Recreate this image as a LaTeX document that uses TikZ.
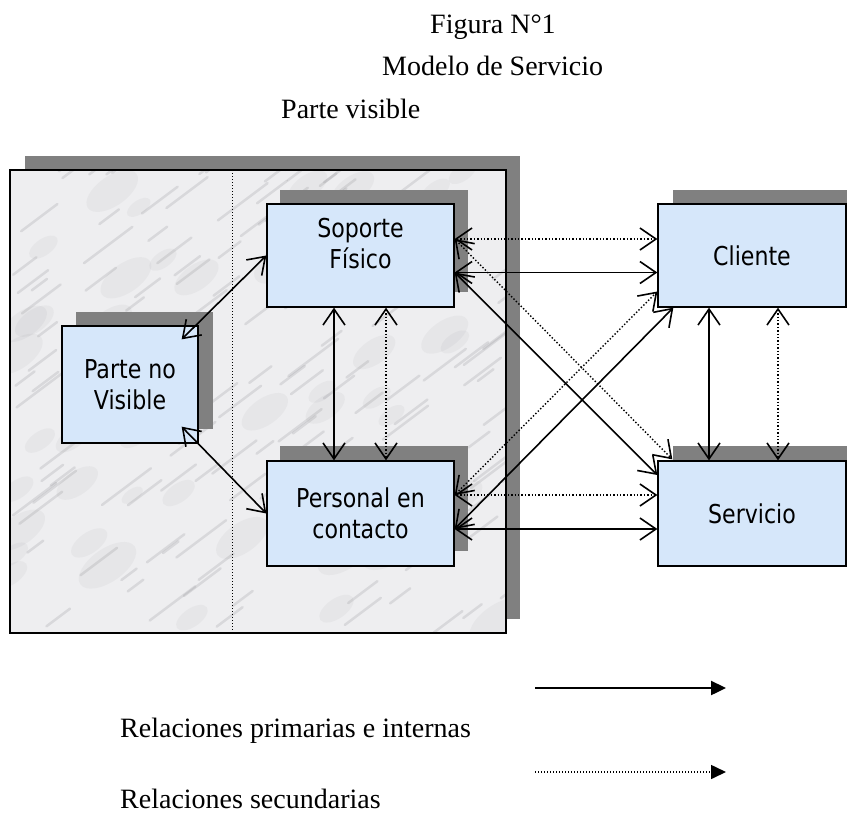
\documentclass[tikz,border=0pt]{standalone}
\usepackage{fontspec}
\setmainfont{Liberation Serif}
\newfontfamily\boxfont[FakeStretch=0.85]{DejaVu Sans}
\usetikzlibrary{arrows.meta,calc}
\definecolor{shadowgray}{RGB}{128,128,128}
\definecolor{boxblue}{RGB}{214,231,250}
\definecolor{marblebase}{RGB}{238,238,240}
\definecolor{vein}{RGB}{140,140,145}
\tikzset{
  vbarb/.tip={Straight Barb[length=16pt,width=22pt,line width=1.6pt]},
  prim/.style={line width=1.6pt,{vbarb}-{vbarb}},
  sec/.style={line width=1.4pt,dash pattern=on 1.4pt off 2pt,{vbarb}-{vbarb}},
  vbox/.style={draw=black,line width=1.3pt,fill=boxblue,inner sep=0pt,align=center,
    font=\boxfont\fontsize{26}{31}\selectfont},
  shade box/.style={fill=shadowgray},
  title/.style={anchor=base west,inner sep=0pt,font=\fontsize{28}{34}\selectfont},
}
\begin{document}
\begin{tikzpicture}[x=1pt,y=-1pt]
\useasboundingbox (0,0) rectangle (847,815);
% titles
\node[title] (t1) at (430,33) {Figura N°1};
\node[title] (t2) at (382,75) {Modelo de Servicio};
\node[title] (t3) at (281,118) {Parte visible};
% big marble panel
\fill[shade box] (25,156) rectangle (520,619);
\begin{scope}
  \clip (10,170) rectangle (506,633);
  \fill[marblebase] (10,170) rectangle (506,633);
  \pgfmathsetseed{11}
  \foreach \i in {1,...,60}{
    \pgfmathsetmacro\xx{10+496*rnd}
    \pgfmathsetmacro\yy{170+463*rnd}
    \pgfmathsetmacro\rr{12+22*rnd}
    \fill[vein,opacity=0.08] (\xx,\yy) ellipse[x radius=\rr, y radius=0.5*\rr, rotate=35];
  }
  \foreach \i in {1,...,140}{
    \pgfmathsetmacro\xx{10+496*rnd}
    \pgfmathsetmacro\yy{170+463*rnd}
    \pgfmathsetmacro\ll{15+35*rnd}
    \draw[vein,opacity=0.22,line width=2.5pt,line cap=round] (\xx,\yy) -- ++(\ll,-0.75*\ll);
  }
\end{scope}
\draw[line width=1.3pt] (10,170) rectangle (506,633);
\draw[line width=0.9pt,dash pattern=on 1pt off 2pt] (232,170) -- (232,633);
% box shadows
\fill[shade box] (280,190) rectangle (468,292);
\fill[shade box] (76,312) rectangle (213,429);
\fill[shade box] (280,446) rectangle (468,551);
\fill[shade box] (673,190) rectangle (860,292);
\fill[shade box] (673,446) rectangle (860,551);
% boxes
\node[vbox,minimum width=187,minimum height=103] (sop) at (360.5,255.5) {Soporte\\Físico\vphantom{p}\\[-6pt]};
\node[vbox,minimum width=136,minimum height=117] (par) at (130,384.5) {Parte no\\Visible};
\node[vbox,minimum width=187,minimum height=105] (per) at (360.5,513.5) {Personal en\\contacto};
\node[vbox,minimum width=188,minimum height=103] (cli) at (752,255.5) {Cliente};
\node[vbox,minimum width=188,minimum height=105] (ser) at (752,513.5) {Servicio};
% internal relations
\draw[prim] ($(par.north east)+(-17,14)$) -- (sop.west);
\draw[prim] ($(par.south east)+(-17,-17)$) -- (per.west);
\draw[prim] ($(sop.south)+(-26.5,0)$) -- ($(per.north)+(-26.5,0)$);
\draw[sec]  ($(sop.south)+(25.5,0)$) -- ($(per.north)+(25.5,0)$);
% soporte to right
\draw[sec]  ($(sop.east)+(0,-16.5)$) -- ($(cli.west)+(0,-16.5)$);
\draw[prim] ($(sop.east)+(0,17)$) -- ($(cli.west)+(0,17)$);
\draw[prim] ($(sop.east)+(0,17)$) -- ($(ser.west)+(0,-38.5)$);
\draw[sec]  ($(sop.east)+(0,-16.5)$) -- ($(ser.north west)+(15,-1)$);
% personal to right
\draw[sec]  ($(per.east)+(0,-18.5)$) -- ($(ser.west)+(0,-18.5)$);
\draw[prim] ($(per.east)+(0,15.5)$) -- ($(ser.west)+(0,15.5)$);
\draw[sec]  ($(per.east)+(0,-18.5)$) -- ($(cli.west)+(0,36)$);
\draw[prim] ($(per.east)+(0,15.5)$) -- ($(cli.south west)+(16,0)$);
% cliente - servicio
\draw[prim] ($(cli.south)+(-43,0)$) -- ($(ser.north)+(-43,0)$);
\draw[sec]  ($(cli.south)+(26,0)$) -- ($(ser.north)+(26,0)$);
% legend
\coordinate (l1a) at (535,688);
\coordinate (l1b) at (726,688);
\coordinate (l2a) at (535,772);
\coordinate (l2b) at (726,772);
\draw[line width=2.4pt,-{Triangle[length=15pt,width=14pt]}] (l1a) -- (l1b);
\draw[line width=1.6pt,dash pattern=on 1.4pt off 1.6pt,-{Triangle[length=15pt,width=14pt]}] (l2a) -- (l2b);
\node[title] (g1) at (120,737) {Relaciones primarias e internas};
\node[title] (g2) at (120,808) {Relaciones secundarias};
\end{tikzpicture}
\end{document}
